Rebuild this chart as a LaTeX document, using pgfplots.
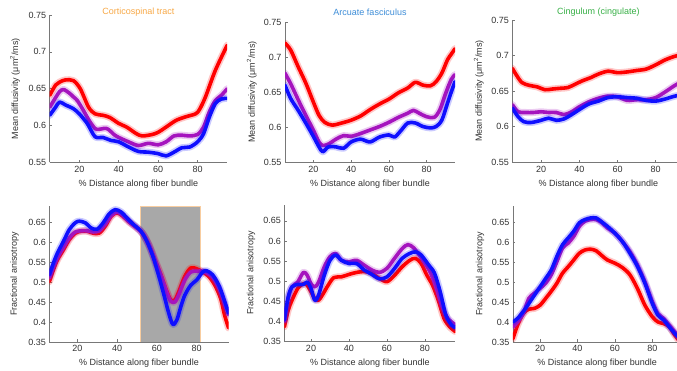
\documentclass[border=0pt]{standalone}
\usepackage{fontspec}
\setmainfont{Liberation Sans}
\usepackage{pgfplots}
\usepackage{pgfplotstable}
\pgfplotsset{compat=1.18}

\definecolor{cR}{RGB}{255,0,0}
\definecolor{cP}{RGB}{165,20,190}
\definecolor{cB}{RGB}{15,15,255}
\definecolor{tO}{RGB}{247,168,70}
\definecolor{tB}{RGB}{60,140,215}
\definecolor{tG}{RGB}{55,175,70}
\definecolor{axc}{RGB}{120,120,120}
\definecolor{txc}{RGB}{50,50,50}
\definecolor{boxf}{RGB}{168,168,168}
\definecolor{boxd}{RGB}{248,205,160}

% ---------- Panel 1: MD, Corticospinal ----------
\pgfplotstableread{
x y
5 0.641
8 0.655
10 0.659
13 0.662
17 0.661
20.5 0.650
24.7 0.625
28 0.616
32 0.614
35.5 0.611
40 0.603
44 0.598
49 0.589
52 0.586
57 0.588
60 0.591
64 0.598
69 0.607
74 0.612
79 0.616
81 0.622
84 0.639
89 0.675
95 0.709
}\aR
\pgfplotstableread{
x y
5 0.625
8 0.638
10 0.646
12 0.649
15 0.644
17 0.639
19 0.634
22 0.621
25 0.607
28 0.596
30 0.595
34 0.596
38 0.587
40 0.584
45 0.578
50 0.573
55 0.576
60 0.574
64 0.578
68 0.586
72 0.587
76 0.586
80 0.588
83 0.598
86 0.619
89 0.634
92 0.641
95 0.650
}\aP
\pgfplotstableread{
x y
5 0.614
8 0.625
10 0.632
13 0.628
17 0.623
20 0.616
24 0.603
28 0.585
32 0.584
36 0.580
40 0.578
45 0.571
50 0.565
55 0.564
60 0.562
64 0.559
68 0.564
72 0.570
76 0.571
80 0.578
83 0.589
86 0.612
89 0.630
92 0.636
95 0.637
}\aB

% ---------- Panel 2: MD, Arcuate ----------
\pgfplotstableread{
x y
5 0.720
8 0.710
12 0.686
16 0.663
20 0.636
23 0.617
26 0.607
30 0.603
35 0.606
40 0.610
45 0.616
50 0.625
55 0.633
60 0.640
65 0.649
70 0.656
74 0.664
78 0.660
82 0.659
85 0.665
88 0.677
91 0.696
93 0.704
95 0.712
}\bR
\pgfplotstableread{
x y
5 0.677
8 0.662
12 0.639
16 0.617
20 0.596
23 0.579
25 0.574
28 0.576
32 0.583
36 0.588
40 0.587
45 0.591
50 0.596
55 0.601
60 0.607
65 0.614
70 0.620
73 0.624
76 0.620
80 0.615
84 0.614
87 0.625
90 0.648
93 0.668
95 0.675
}\bP
\pgfplotstableread{
x y
5 0.660
8 0.641
12 0.624
16 0.606
20 0.587
23 0.572
25 0.565
28 0.572
32 0.572
36 0.570
40 0.579
45 0.583
50 0.579
55 0.586
60 0.589
63 0.586
66 0.594
70 0.606
74 0.606
78 0.601
82 0.599
85 0.601
88 0.610
91 0.634
93 0.650
95 0.665
}\bB

% ---------- Panel 3: MD, Cingulum ----------
\pgfplotstableread{
x y
5 0.682
7 0.673
10 0.662
14 0.658
18 0.656
22 0.652
26 0.653
30 0.654
34 0.655
38 0.660
42 0.665
46 0.669
50 0.674
55 0.678
60 0.676
65 0.677
70 0.679
75 0.681
80 0.687
85 0.694
90 0.699
95 0.702
}\cR
\pgfplotstableread{
x y
5 0.631
8 0.621
12 0.620
16 0.620
20 0.621
24 0.620
28 0.620
32 0.617
36 0.621
40 0.628
45 0.635
50 0.640
55 0.643
60 0.642
65 0.637
70 0.638
75 0.638
80 0.641
85 0.649
90 0.658
95 0.665
}\cP
\pgfplotstableread{
x y
5 0.626
8 0.614
11 0.607
15 0.606
20 0.609
24 0.612
28 0.609
32 0.611
36 0.617
40 0.624
45 0.632
50 0.636
55 0.641
60 0.642
65 0.641
70 0.640
75 0.637
80 0.636
85 0.639
90 0.643
95 0.645
}\cB

% ---------- Panel 4: FA, Corticospinal ----------
\pgfplotstableread{
x y
6 0.501
8 0.530
10 0.555
13 0.580
16 0.606
19 0.622
22 0.627
25 0.627
28 0.622
31 0.622
34 0.639
37 0.664
40 0.673
43 0.664
46 0.650
50 0.635
53 0.620
56 0.593
59 0.555
62 0.518
65 0.476
67 0.455
69 0.455
71 0.476
74 0.514
77 0.535
80 0.533
83 0.525
86 0.514
89 0.493
92 0.459
94 0.417
96 0.385
}\dR
\pgfplotstableread{
x y
6 0.510
8 0.537
10 0.560
13 0.586
16 0.610
19 0.625
22 0.628
25 0.628
28 0.625
31 0.628
34 0.644
37 0.666
40 0.675
43 0.666
46 0.651
50 0.635
53 0.620
56 0.593
59 0.555
62 0.517
65 0.474
67 0.452
69 0.450
71 0.468
74 0.505
77 0.525
80 0.527
83 0.527
86 0.520
89 0.505
92 0.475
94 0.445
96 0.418
}\dP
\pgfplotstableread{
x y
6 0.518
8 0.547
10 0.572
13 0.601
16 0.631
19 0.648
21 0.652
24 0.648
27 0.635
30 0.632
33 0.648
36 0.670
39 0.681
42 0.675
45 0.660
48 0.645
52 0.627
55 0.601
58 0.564
61 0.514
64 0.459
66 0.421
68 0.394
70 0.405
72 0.438
74 0.467
77 0.492
80 0.505
83 0.525
85 0.528
88 0.518
91 0.493
93 0.467
96 0.422
}\dB

% ---------- Panel 5: FA, Arcuate ----------
\pgfplotstableread{
x y
6 0.387
8 0.428
10 0.453
13 0.482
16 0.494
18 0.490
20 0.474
22 0.457
24 0.453
26 0.466
29 0.490
32 0.509
36 0.511
40 0.517
44 0.522
48 0.524
52 0.520
56 0.507
60 0.499
64 0.515
68 0.536
72 0.552
75 0.557
78 0.544
81 0.515
84 0.490
87 0.453
90 0.408
93 0.387
96 0.375
}\eR
\pgfplotstableread{
x y
6 0.400
8 0.457
10 0.486
13 0.498
16 0.522
18 0.515
20 0.494
22 0.486
24 0.498
27 0.536
30 0.561
33 0.569
36 0.552
40 0.548
44 0.552
48 0.540
52 0.528
56 0.522
60 0.532
64 0.557
68 0.581
71 0.591
74 0.583
77 0.565
80 0.544
83 0.520
86 0.482
89 0.437
92 0.408
96 0.392
}\eP
\pgfplotstableread{
x y
6 0.404
8 0.461
10 0.486
13 0.492
16 0.492
18 0.498
20 0.482
22 0.453
24 0.466
27 0.515
30 0.552
33 0.565
36 0.552
40 0.544
44 0.544
48 0.528
52 0.517
56 0.506
60 0.511
64 0.532
68 0.557
72 0.569
75 0.573
78 0.565
82 0.540
85 0.520
88 0.474
91 0.416
94 0.391
96 0.385
}\eB

% ---------- Panel 6: FA, Cingulum ----------
\pgfplotstableread{
x y
5.5 0.358
8 0.392
11 0.421
14 0.432
17 0.434
20 0.442
23 0.459
26 0.477
29 0.497
32 0.522
35 0.538
38 0.555
41 0.572
44 0.580
47 0.582
50 0.578
53 0.566
56 0.555
60 0.547
64 0.536
68 0.518
72 0.484
76 0.442
80 0.413
83 0.400
86 0.396
89 0.388
92 0.367
95.5 0.346
}\fR
\pgfplotstableread{
x y
5.5 0.388
8 0.400
11 0.421
14 0.459
17 0.472
20 0.484
23 0.497
26 0.518
29 0.551
32 0.585
35 0.597
38 0.614
41 0.639
44 0.652
47 0.656
50 0.656
53 0.648
56 0.635
60 0.622
64 0.601
68 0.576
72 0.543
76 0.501
80 0.451
83 0.421
86 0.409
89 0.392
92 0.375
95.5 0.358
}\fP
\pgfplotstableread{
x y
5.5 0.400
8 0.409
11 0.426
14 0.446
17 0.467
20 0.488
23 0.509
26 0.530
29 0.564
32 0.593
35 0.610
38 0.627
41 0.648
44 0.656
47 0.660
50 0.660
53 0.650
56 0.639
60 0.622
64 0.601
68 0.572
72 0.539
76 0.497
80 0.446
83 0.417
86 0.405
89 0.388
92 0.371
95.5 0.354
}\fB

\pgfplotsset{
  panel/.style={
    scale only axis,
    anchor=south west,
    font=\fontsize{9}{10.5}\selectfont,
    /pgf/number format/assume math mode=true,
    axis x line*=bottom,
    axis y line*=left,
    tick align=inside,
    xtick pos=bottom, ytick pos=left,
    axis line style={axc, line width=0.6pt},
    tick style={axc, line width=0.5pt},
    major tick length=2.5pt,
    ticklabel style={txc},
    label style={txc},
    xtick={20,40,60,80},
    xlabel={\% Distance along fiber bundle},
    xlabel style={at={(axis description cs:0.5,0)}, anchor=center, yshift=-21.5pt},
    title style={at={(axis description cs:0.5,1)}, anchor=center},
    yticklabel style={/pgf/number format/fixed, /pgf/number format/precision=2},
  },
  mdrow/.style={panel, ymin=0.55, ymax=0.75, ytick={0.55,0.6,0.65,0.7,0.75},
    ylabel={Mean diffusivity (μm\textsuperscript{2}/ms)},
    ylabel style={at={(axis description cs:-0.195,0.5)}, anchor=center}},
  farow/.style={panel, ymin=0.35, ymax=0.69, ytick={0.35,0.4,0.45,0.5,0.55,0.6,0.65},
    ylabel={Fractional anisotropy},
    ylabel style={at={(axis description cs:-0.195,0.5)}, anchor=center}},
  band/.style={smooth, line width=7pt, opacity=0.22, line join=round, line cap=round},
  mainl/.style={smooth, line width=3.6pt, line join=round, line cap=round},
}
\newcommand{\series}[2]{%
  \addplot[band, #1] table {#2};
  \addplot[mainl, #1] table {#2};
}

\begin{document}
\begin{tikzpicture}
\useasboundingbox (0pt,0pt) rectangle (677pt,371pt);

% Top row
\begin{axis}[mdrow, at={(49.7pt,208.5pt)}, width=177.5pt, height=147.5pt, xmin=5, xmax=95,
  title={\textcolor{tO}{Corticospinal tract}}, title style={yshift=-3pt}]
  \series{cR}{\aR}
  \series{cP}{\aP}
  \series{cB}{\aB}
\end{axis}

\begin{axis}[mdrow, at={(285pt,208.7pt)}, width=170pt, height=140.3pt, xmin=5, xmax=95,
  title={\textcolor{tB}{Arcuate fasciculus}}, title style={yshift=4pt}]
  \series{cR}{\bR}
  \series{cP}{\bP}
  \series{cB}{\bB}
\end{axis}

\begin{axis}[mdrow, at={(512.4pt,208.7pt)}, width=172pt, height=142.3pt, xmin=5, xmax=95,
  title={\textcolor{tG}{Cingulum (cingulate)}}, title style={yshift=2pt}]
  \series{cR}{\cR}
  \series{cP}{\cP}
  \series{cB}{\cB}
\end{axis}

% Bottom row
\begin{axis}[farow, at={(49.4pt,29pt)}, width=179.2pt, height=136pt, xmin=6, xmax=96]
  \addplot[fill=boxf, draw=boxd, line width=0.8pt] coordinates {(51.5,0.35) (82,0.35) (82,0.69) (51.5,0.69)} -- cycle;
  \series{cR}{\dR}
  \series{cP}{\dP}
  \series{cB}{\dB}
\end{axis}

\begin{axis}[farow, at={(284.4pt,29.3pt)}, width=171pt, height=137pt, xmin=6, xmax=96]
  \series{cR}{\eR}
  \series{cP}{\eP}
  \series{cB}{\eB}
\end{axis}

\begin{axis}[farow, at={(512.9pt,29pt)}, width=168.5pt, height=136pt, xmin=5.5, xmax=95.5]
  \series{cR}{\fR}
  \series{cP}{\fP}
  \series{cB}{\fB}
\end{axis}
\end{tikzpicture}
\end{document}
